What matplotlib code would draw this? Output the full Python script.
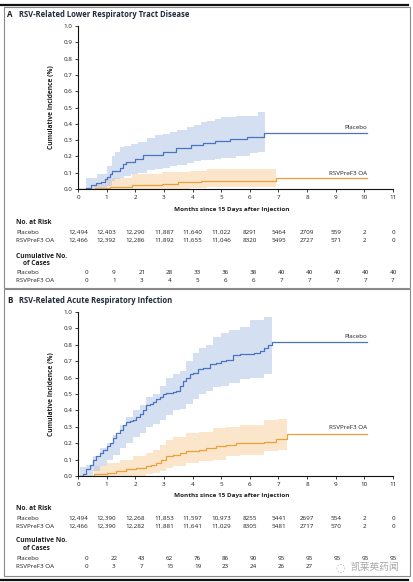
import matplotlib
matplotlib.use("Agg")
import matplotlib.pyplot as plt
import matplotlib.transforms as mtransforms
from matplotlib.patches import Rectangle
from matplotlib.lines import Line2D

plt.rcParams['font.family'] = ['Open Sans', 'DejaVu Sans']

# ---------------- data ----------------
months = list(range(0, 12))

# Panel A: RSV-related lower respiratory tract disease
A_pl_t = [0, 0.28, 0.45, 0.62, 0.8, 0.93, 1.0, 1.1, 1.2, 1.45, 1.57, 1.68, 1.98, 2.27, 2.97, 3.43, 3.95, 4.36, 4.8, 5.3, 5.9, 6.5, 10.1]
A_pl_v = [0, 0.005, 0.025, 0.035, 0.045, 0.06, 0.075, 0.09, 0.11, 0.13, 0.155, 0.165, 0.185, 0.21, 0.225, 0.25, 0.27, 0.28, 0.295, 0.305, 0.318, 0.345, 0.345]
A_pl_ci_t = [0.28, 0.65, 1.0, 1.17, 1.3, 1.45, 1.6, 1.86, 2.1, 2.4, 2.7, 2.97, 3.2, 3.45, 3.8, 4.06, 4.3, 4.5, 4.8, 5.0, 5.5, 6.0, 6.3, 6.53]
A_pl_hi = [0.07, 0.09, 0.14, 0.2, 0.23, 0.255, 0.265, 0.275, 0.29, 0.315, 0.33, 0.34, 0.35, 0.36, 0.38, 0.39, 0.41, 0.42, 0.43, 0.44, 0.445, 0.45, 0.47, 0.47]
A_pl_lo = [0, 0, 0.02, 0.05, 0.06, 0.07, 0.08, 0.09, 0.1, 0.115, 0.12, 0.13, 0.14, 0.15, 0.16, 0.17, 0.175, 0.18, 0.185, 0.19, 0.2, 0.22, 0.23, 0.23]

A_vx_t = [0, 0.58, 1.1, 1.9, 2.95, 3.5, 4.3, 6.9, 10.1]
A_vx_v = [0, 0.005, 0.012, 0.022, 0.032, 0.04, 0.048, 0.066, 0.066]
A_vx_ci_t = [0.58, 1.0, 1.2, 1.9, 2.95, 3.9, 4.5, 6.0, 6.9]
A_vx_hi = [0.03, 0.06, 0.07, 0.09, 0.105, 0.11, 0.12, 0.12, 0.12]
A_vx_lo = [0, 0, 0, 0, 0.003, 0.005, 0.01, 0.012, 0.012]

# Panel B: RSV-related acute respiratory infection
B_pl_t = [0, 0.06, 0.17, 0.29, 0.41, 0.52, 0.64, 0.76, 0.87, 1.0, 1.1, 1.22, 1.34, 1.45, 1.57, 1.69, 1.8, 1.92, 2.03, 2.15, 2.27, 2.38, 2.5, 2.62, 2.73, 2.85, 2.97, 3.08, 3.31, 3.43, 3.55, 3.66, 3.78, 3.9, 4.0, 4.19, 4.36, 4.6, 4.83, 5.0, 5.17, 5.4, 5.64, 6.13, 6.36, 6.5, 6.65, 6.77, 10.1]
B_pl_v = [0, 0.0, 0.01, 0.04, 0.07, 0.1, 0.12, 0.14, 0.16, 0.18, 0.2, 0.23, 0.26, 0.28, 0.31, 0.33, 0.335, 0.34, 0.36, 0.38, 0.4, 0.43, 0.44, 0.45, 0.47, 0.48, 0.5, 0.505, 0.51, 0.52, 0.55, 0.58, 0.6, 0.62, 0.63, 0.65, 0.66, 0.68, 0.69, 0.7, 0.71, 0.74, 0.745, 0.75, 0.76, 0.78, 0.8, 0.82, 0.82]
B_pl_ci_t = [0.06, 0.29, 0.52, 0.76, 1.0, 1.22, 1.45, 1.69, 1.92, 2.15, 2.38, 2.62, 2.85, 3.08, 3.31, 3.55, 3.78, 4.0, 4.24, 4.48, 4.71, 5.0, 5.29, 5.64, 6.0, 6.5, 6.77]
B_pl_hi = [0.057, 0.07, 0.12, 0.17, 0.2, 0.25, 0.31, 0.36, 0.4, 0.43, 0.48, 0.5, 0.55, 0.6, 0.62, 0.64, 0.7, 0.75, 0.78, 0.8, 0.85, 0.87, 0.89, 0.91, 0.95, 0.97, 1.0]
B_pl_lo = [0, 0, 0.03, 0.06, 0.1, 0.13, 0.17, 0.2, 0.24, 0.26, 0.3, 0.32, 0.34, 0.37, 0.4, 0.41, 0.44, 0.47, 0.5, 0.52, 0.54, 0.55, 0.57, 0.59, 0.6, 0.62, 0.66]

B_vx_t = [0, 0.55, 1.0, 1.34, 1.69, 2.03, 2.38, 2.55, 2.73, 2.9, 3.08, 3.31, 3.55, 3.78, 4.24, 4.48, 4.83, 5.17, 5.52, 6.5, 6.9, 7.3, 10.1]
B_vx_v = [0, 0.012, 0.02, 0.03, 0.04, 0.05, 0.06, 0.065, 0.08, 0.1, 0.12, 0.13, 0.14, 0.15, 0.16, 0.17, 0.18, 0.19, 0.2, 0.21, 0.225, 0.255, 0.255]
B_vx_ci_t = [0.55, 1.0, 1.45, 1.92, 2.38, 2.62, 2.85, 3.08, 3.31, 3.78, 4.24, 4.71, 5.17, 5.64, 6.5, 7.0, 7.3]
B_vx_hi = [0.06, 0.08, 0.1, 0.12, 0.14, 0.16, 0.19, 0.22, 0.24, 0.26, 0.27, 0.29, 0.3, 0.31, 0.34, 0.345, 0.345]
B_vx_lo = [0, 0, 0, 0, 0.01, 0.02, 0.03, 0.05, 0.06, 0.08, 0.09, 0.1, 0.12, 0.13, 0.15, 0.16, 0.16]

A_risk_pl = ["12,494", "12,403", "12,290", "11,887", "11,640", "11,022", "8291", "5464", "2709", "559", "2", "0"]
A_risk_vx = ["12,466", "12,392", "12,286", "11,892", "11,655", "11,046", "8320", "5495", "2727", "571", "2", "0"]
A_cases_pl = ["0", "9", "21", "28", "33", "36", "38", "40", "40", "40", "40", "40"]
A_cases_vx = ["0", "1", "3", "4", "5", "6", "6", "7", "7", "7", "7", "7"]

B_risk_pl = ["12,494", "12,390", "12,268", "11,853", "11,597", "10,973", "8255", "5441", "2697", "554", "2", "0"]
B_risk_vx = ["12,466", "12,390", "12,282", "11,881", "11,641", "11,029", "8305", "5481", "2717", "570", "2", "0"]
B_cases_pl = ["0", "22", "43", "62", "76", "86", "90", "95", "95", "95", "95", "95"]
# last three values are hidden under the watermark in the reference
B_cases_vx = ["0", "3", "7", "15", "19", "23", "24", "26", "27", "", "", ""]

yticks = [0.0, 0.1, 0.2, 0.3, 0.4, 0.5, 0.6, 0.7, 0.8, 0.9, 1.0]

# ---------------- style ----------------
W, H = 413, 582
BLUE = '#4a74bd'
BLUE_F = '#b4c5e8'
ORANGE = '#e9a23b'
ORANGE_F = '#f8cf9a'
TXT = '#1e1e1e'
FS = 4.5

fig = plt.figure(figsize=(W / 100, H / 100), dpi=100)


def fx(x):
    return x / W


def fy(y):
    return 1 - y / H


# frames
fig.add_artist(Line2D([fx(0), fx(408)], [fy(4.5), fy(4.5)], color='#111111', lw=1.6))
fig.add_artist(Line2D([fx(0), fx(408)], [fy(579.5), fy(579.5)], color='#111111', lw=1.6))
for top, bot in [(7, 287.5), (288.5, 575.5)]:
    fig.add_artist(Rectangle((fx(3.5), fy(bot)), fx(406) - fx(0), fy(top) - fy(bot),
                             fill=False, ec='#8a8a8a', lw=0.8))


def panel(letter, title, top, bottom, title_y, pl, vx, risk_pl, risk_vx, cases_pl, cases_vx,
          rows_y, lab_pl_y, lab_vx_y):
    ax = fig.add_axes([fx(78), fy(bottom), fx(393) - fx(78), fy(top) - fy(bottom)])
    (pt, pv, pct, phi, plo) = pl
    (vt, vv, vct, vhi, vlo) = vx
    ax.fill_between(vct, vlo, vhi, step='post', color=ORANGE_F, alpha=0.5, lw=0)
    ax.fill_between(pct, plo, phi, step='post', color=BLUE_F, alpha=0.55, lw=0)
    ax.plot([0, pct[-1]], [0.003, 0.003], color='#c9d4ec', lw=0.6)
    ax.step(vt, vv, where='post', color=ORANGE, lw=0.9)
    ax.step(pt, pv, where='post', color=BLUE, lw=0.9)
    ax.set_xlim(0, 11)
    ax.set_ylim(0, 1.0)
    ax.set_xticks(months)
    ax.set_yticks(yticks)
    ax.set_yticklabels([f"{v:.1f}" for v in yticks])
    for s in ['top', 'right']:
        ax.spines[s].set_visible(False)
    for s in ['left', 'bottom']:
        ax.spines[s].set_linewidth(0.8)
        ax.spines[s].set_color('#111111')
    ax.tick_params(axis='both', length=2.5, width=0.6, labelsize=FS, colors=TXT, pad=1.5)
    ax.set_ylabel("Cumulative Incidence (%)", fontsize=FS + 0.3, color=TXT, labelpad=6, fontweight='bold')
    ax.patch.set_alpha(0)
    ax.text(10.1, lab_pl_y, "Placebo", ha='right', va='bottom', fontsize=FS, color=TXT)
    ax.text(10.1, lab_vx_y, "RSVPreF3 OA", ha='right', va='bottom', fontsize=FS, color=TXT)

    fig.text(fx(7), fy(title_y), letter, fontsize=FS + 1.3, fontweight='bold', color=TXT, va='center')
    fig.text(fx(19), fy(title_y), title, fontsize=FS + 1.0, fontweight='bold', color='#1f2a3c', va='center')

    tr = mtransforms.blended_transform_factory(ax.transData, fig.transFigure)
    (y_xl, y_nr, y_r1, y_r2, y_cn, y_oc, y_c1, y_c2) = rows_y
    fig.text(fx(232), fy(y_xl), "Months since 15 Days after Injection", ha='center', va='center',
             fontsize=FS + 0.1, fontweight='bold', color=TXT)
    fig.text(fx(16), fy(y_nr), "No. at Risk", fontsize=FS + 0.3, fontweight='bold', color=TXT, va='center')
    fig.text(fx(16), fy(y_r1), "Placebo", fontsize=FS, color=TXT, va='center')
    fig.text(fx(16), fy(y_r2), "RSVPreF3 OA", fontsize=FS, color=TXT, va='center')
    fig.text(fx(16), fy(y_cn), "Cumulative No.", fontsize=FS + 0.3, fontweight='bold', color=TXT, va='center')
    fig.text(fx(23), fy(y_oc), "of Cases", fontsize=FS + 0.3, fontweight='bold', color=TXT, va='center')
    fig.text(fx(16), fy(y_c1), "Placebo", fontsize=FS, color=TXT, va='center')
    fig.text(fx(16), fy(y_c2), "RSVPreF3 OA", fontsize=FS, color=TXT, va='center')
    for i, m in enumerate(months):
        ax.text(m, fy(y_r1), risk_pl[i], transform=tr, ha='center', va='center', fontsize=FS, color=TXT)
        ax.text(m, fy(y_r2), risk_vx[i], transform=tr, ha='center', va='center', fontsize=FS, color=TXT)
        cx = 0.28 + i * (10.72 / 11)
        ax.text(cx, fy(y_c1), cases_pl[i], transform=tr, ha='center', va='center', fontsize=FS, color=TXT)
        if cases_vx[i]:
            ax.text(cx, fy(y_c2), cases_vx[i], transform=tr, ha='center', va='center', fontsize=FS, color=TXT)
    return ax


panel("A", "RSV-Related Lower Respiratory Tract Disease", 26, 189, 14.5,
      (A_pl_t, A_pl_v, A_pl_ci_t, A_pl_hi, A_pl_lo),
      (A_vx_t, A_vx_v, A_vx_ci_t, A_vx_hi, A_vx_lo),
      A_risk_pl, A_risk_vx, A_cases_pl, A_cases_vx,
      (209, 223, 232, 240, 256, 264, 272, 280), 0.36, 0.08)

panel("B", "RSV-Related Acute Respiratory Infection", 312, 476, 300.5,
      (B_pl_t, B_pl_v, B_pl_ci_t, B_pl_hi, B_pl_lo),
      (B_vx_t, B_vx_v, B_vx_ci_t, B_vx_hi, B_vx_lo),
      B_risk_pl, B_risk_vx, B_cases_pl, B_cases_vx,
      (495, 508, 518, 526, 541, 549, 558, 566), 0.835, 0.28)

# watermark (WeChat account mark)
fig.text(fx(350), fy(567), "凯莱英药闻", fontsize=7, color='#a8a8a8',
         family=['Noto Sans CJK SC', 'DejaVu Sans'], ha='left', va='center')
fig.text(fx(340), fy(567), "◌", fontsize=8, color='#b0b0b0', ha='center', va='center',
         family=['DejaVu Sans'])

fig.savefig("out.png", dpi=100)
